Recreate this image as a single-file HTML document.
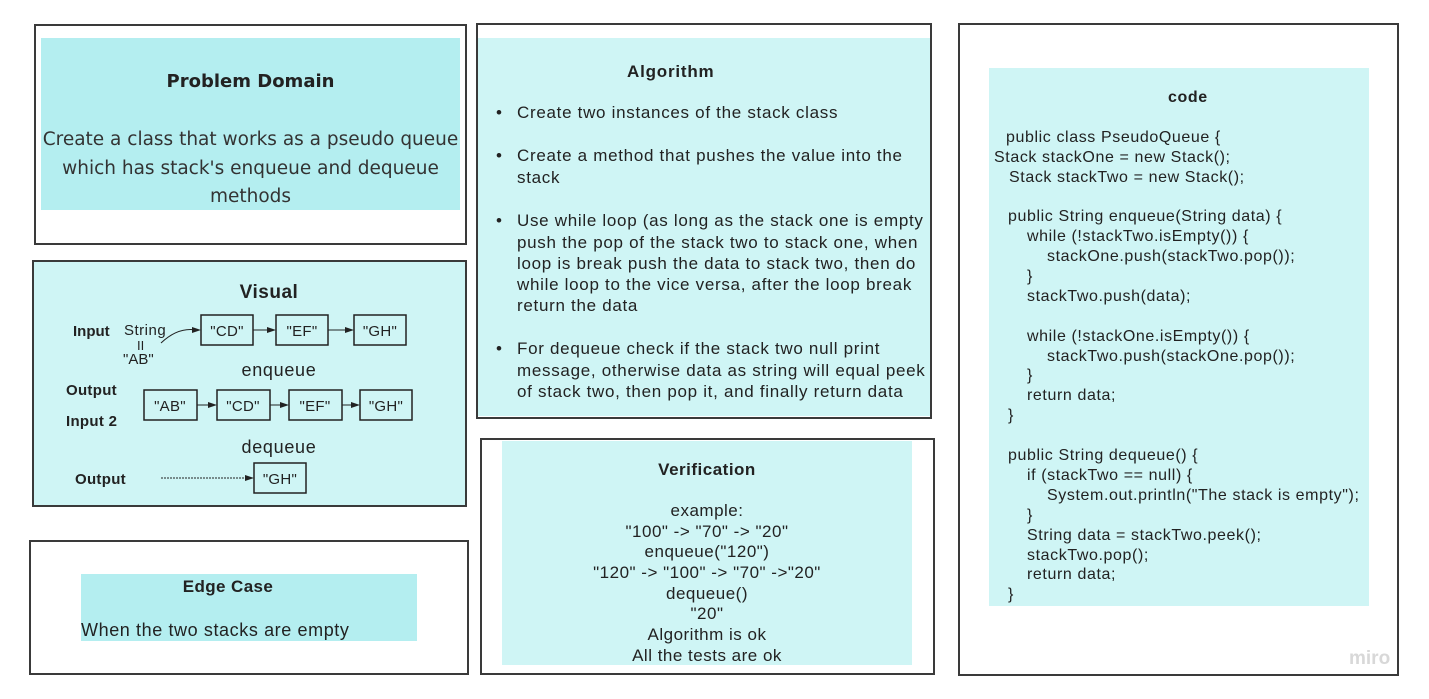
<!DOCTYPE html>
<html><head><meta charset="utf-8"><style>
body{margin:0;width:1429px;height:699px;background:#fff;position:relative;overflow:hidden;font-family:"Liberation Sans",sans-serif;color:#222}
.a{position:absolute;box-sizing:border-box}
.o{border:2px solid #3a3a3a}
.t{position:absolute;white-space:nowrap}
.code .t{font-size:16px;letter-spacing:0.6px}
.alg .t{font-size:17px;letter-spacing:0.7px}
.ver{position:absolute;left:502px;width:410px;text-align:center;font-size:17px;letter-spacing:0.5px}
</style></head><body>
<!-- Problem domain -->
<div class="a o" style="left:34px;top:24px;width:433px;height:221px"></div>
<div class="a" style="left:41px;top:38px;width:419px;height:172px;background:#b4eef0"></div>
<div class="t" style="left:41px;width:419px;text-align:center;top:71px;font-size:18px;font-weight:bold;font-family:'DejaVu Sans',sans-serif">Problem Domain</div>
<div class="t" style="left:36px;width:429px;text-align:center;top:126px;font-size:18.5px;line-height:28.5px;white-space:normal;font-family:'DejaVu Sans',sans-serif;color:#333">Create a class that works as a pseudo queue which has stack's enqueue and dequeue methods</div>

<!-- Visual -->
<div class="a o" style="left:32px;top:260px;width:435px;height:247px;background:#cff5f5"></div>
<svg class="a" style="left:0;top:0" width="470" height="510" font-family="Liberation Sans, sans-serif">
<text x="269" y="298" font-size="19" font-weight="bold" text-anchor="middle" fill="#222" letter-spacing="0.5">Visual</text>
<text x="73" y="336" font-size="15" font-weight="bold" fill="#222">Input</text>
<text x="124" y="335" font-size="15" fill="#222" letter-spacing="0.5">String</text>
<text x="137" y="350" font-size="13" fill="#222">II</text>
<text x="123" y="364" font-size="15" fill="#222">"AB"</text>
<path d="M161 343 Q178 327 196 330" fill="none" stroke="#222" stroke-width="1"/>
<polygon points="201,330 192,327 192,333" fill="#222"/>
<g fill="none" stroke="#222" stroke-width="1.5">
<rect x="201" y="315" width="52" height="30"/><rect x="276" y="315" width="52" height="30"/><rect x="354" y="315" width="52" height="30"/>
<rect x="144" y="390" width="53" height="30"/><rect x="217" y="390" width="53" height="30"/><rect x="289" y="390" width="53" height="30"/><rect x="360" y="390" width="52" height="30"/>
<rect x="254" y="463" width="52" height="30"/>
</g>
<g font-size="15" text-anchor="middle" fill="#222" letter-spacing="0.3">
<text x="227" y="336">"CD"</text><text x="302" y="336">"EF"</text><text x="380" y="336">"GH"</text>
<text x="170" y="411">"AB"</text><text x="243" y="411">"CD"</text><text x="315" y="411">"EF"</text><text x="386" y="411">"GH"</text>
<text x="280" y="484">"GH"</text>
<text x="279" y="376" font-size="18" letter-spacing="0.7">enqueue</text>
<text x="279" y="453" font-size="18" letter-spacing="0.7">dequeue</text>
</g>
<g font-size="15" font-weight="bold" fill="#222" letter-spacing="0.3">
<text x="66" y="395">Output</text><text x="66" y="426">Input 2</text><text x="75" y="484">Output</text>
</g>
<g stroke="#222" stroke-width="1">
<line x1="253" y1="330" x2="270" y2="330"/><line x1="328" y1="330" x2="348" y2="330"/>
<line x1="197" y1="405" x2="211" y2="405"/><line x1="270" y1="405" x2="283" y2="405"/><line x1="342" y1="405" x2="354" y2="405"/>
<line x1="161" y1="478" x2="248" y2="478" stroke-dasharray="2,1"/>
</g>
<g fill="#222">
<polygon points="276,330 267,327 267,333"/><polygon points="354,330 345,327 345,333"/>
<polygon points="217,405 208,402 208,408"/><polygon points="289,405 280,402 280,408"/><polygon points="360,405 351,402 351,408"/>
<polygon points="254,478 245,475 245,481"/>
</g>
</svg>

<!-- Edge case -->
<div class="a o" style="left:29px;top:540px;width:440px;height:135px"></div>
<div class="a" style="left:81px;top:574px;width:336px;height:67px;background:#b4eef0"></div>
<div class="t" style="left:81px;width:294px;text-align:center;top:577px;font-size:17px;font-weight:bold;letter-spacing:0.4px">Edge Case</div>
<div class="t" style="left:81px;top:620px;font-size:18px;letter-spacing:0.6px">When the two stacks are empty</div>

<!-- Algorithm -->
<div class="a o" style="left:476px;top:23px;width:456px;height:396px"></div>
<div class="a" style="left:478px;top:38px;width:452px;height:378px;background:#cff5f5"></div>
<div class="alg">
<div class="t" style="left:627px;top:62px;font-weight:bold;font-size:17px;letter-spacing:0.8px">Algorithm</div>
<div class="t" style="left:496px;top:103px">•</div><div class="t" style="left:517px;top:103px">Create two instances of the stack class</div>
<div class="t" style="left:496px;top:146px">•</div><div class="t" style="left:517px;top:146px">Create a method that pushes the value into the</div>
<div class="t" style="left:517px;top:168px">stack</div>
<div class="t" style="left:496px;top:211px">•</div><div class="t" style="left:517px;top:211px">Use while loop (as long as the stack one is empty</div>
<div class="t" style="left:517px;top:233px">push the pop of the stack two to stack one, when</div>
<div class="t" style="left:517px;top:254px">loop is break push the data to stack two, then do</div>
<div class="t" style="left:517px;top:275px">while loop to the vice versa, after the loop break</div>
<div class="t" style="left:517px;top:296px">return the data</div>
<div class="t" style="left:496px;top:339px">•</div><div class="t" style="left:517px;top:339px">For dequeue check if the stack two null print</div>
<div class="t" style="left:517px;top:361px">message, otherwise data as string will equal peek</div>
<div class="t" style="left:517px;top:382px">of stack two, then pop it, and finally return data</div>
</div>

<!-- Verification -->
<div class="a o" style="left:480px;top:438px;width:455px;height:237px"></div>
<div class="a" style="left:502px;top:441px;width:410px;height:224px;background:#cff5f5"></div>
<div class="ver" style="top:460px;font-weight:bold;font-size:17px">Verification</div>
<div class="ver" style="top:501px">example:</div>
<div class="ver" style="top:522px">"100" -&gt; "70" -&gt; "20"</div>
<div class="ver" style="top:542px">enqueue("120")</div>
<div class="ver" style="top:563px">"120" -&gt; "100" -&gt; "70" -&gt;"20"</div>
<div class="ver" style="top:584px">dequeue()</div>
<div class="ver" style="top:604px">"20"</div>
<div class="ver" style="top:625px">Algorithm is ok</div>
<div class="ver" style="top:646px">All the tests are ok</div>

<!-- Code -->
<div class="a o" style="left:958px;top:23px;width:441px;height:653px"></div>
<div class="a" style="left:989px;top:68px;width:380px;height:538px;background:#cff5f5"></div>
<div class="code">
<div class="t" style="left:1168px;top:89px;font-weight:bold">code</div>
<div class="t" style="left:1006px;top:129px">public class PseudoQueue {</div>
<div class="t" style="left:994px;top:149px">Stack stackOne = new Stack();</div>
<div class="t" style="left:1009px;top:169px">Stack stackTwo = new Stack();</div>
<div class="t" style="left:1008px;top:208px">public String enqueue(String data) {</div>
<div class="t" style="left:1027px;top:228px">while (!stackTwo.isEmpty()) {</div>
<div class="t" style="left:1047px;top:248px">stackOne.push(stackTwo.pop());</div>
<div class="t" style="left:1027px;top:268px">}</div>
<div class="t" style="left:1027px;top:288px">stackTwo.push(data);</div>
<div class="t" style="left:1027px;top:328px">while (!stackOne.isEmpty()) {</div>
<div class="t" style="left:1047px;top:348px">stackTwo.push(stackOne.pop());</div>
<div class="t" style="left:1027px;top:367px">}</div>
<div class="t" style="left:1027px;top:387px">return data;</div>
<div class="t" style="left:1008px;top:407px">}</div>
<div class="t" style="left:1008px;top:447px">public String dequeue() {</div>
<div class="t" style="left:1027px;top:467px">if (stackTwo == null) {</div>
<div class="t" style="left:1047px;top:487px">System.out.println("The stack is empty");</div>
<div class="t" style="left:1027px;top:507px">}</div>
<div class="t" style="left:1027px;top:527px">String data = stackTwo.peek();</div>
<div class="t" style="left:1027px;top:547px">stackTwo.pop();</div>
<div class="t" style="left:1027px;top:566px">return data;</div>
<div class="t" style="left:1008px;top:586px">}</div>
</div>
<div class="t" style="left:1349px;top:648px;font-size:19px;font-weight:bold;color:#d8d8d8">miro</div>
</body></html>
